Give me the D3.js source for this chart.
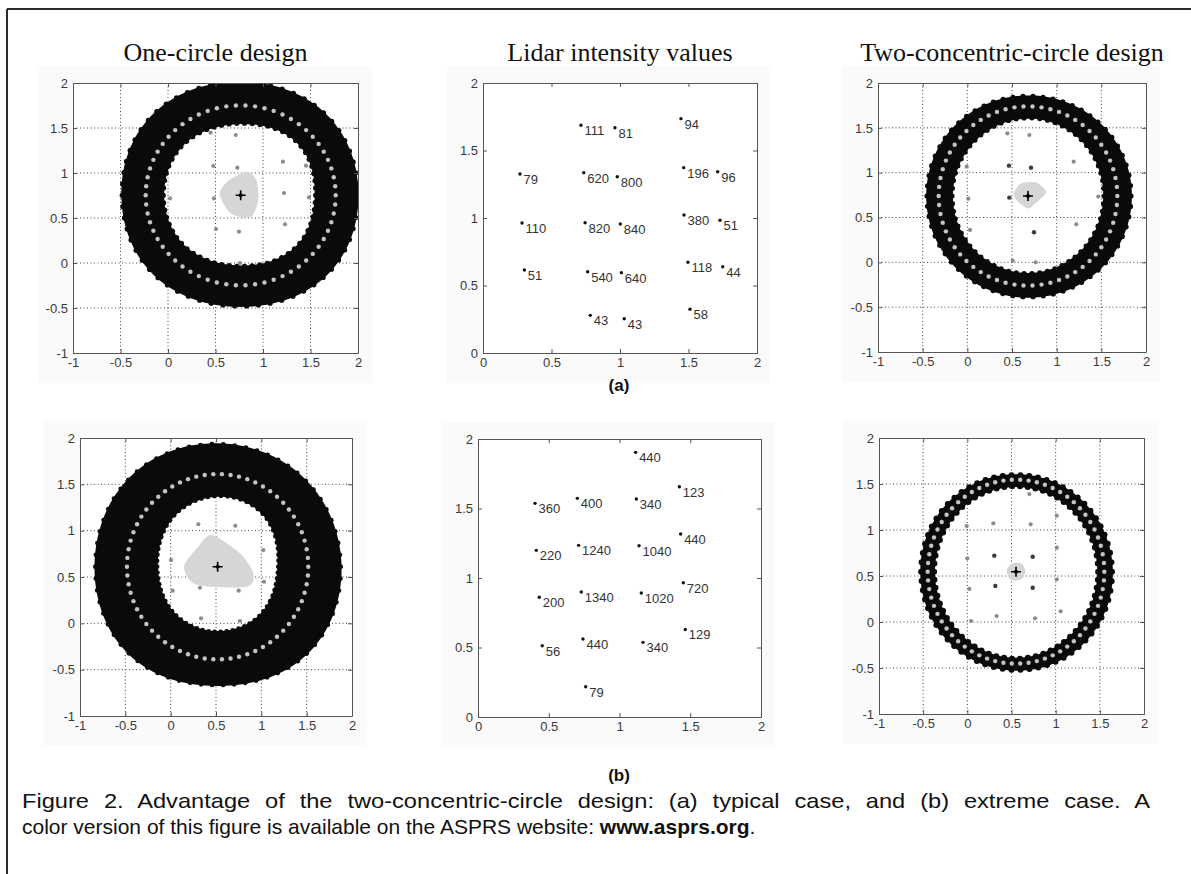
<!DOCTYPE html>
<html>
<head>
<meta charset="utf-8">
<script src="https://cdn.jsdelivr.net/npm/d3@7"></script>
<style>
  body { margin: 0; background: #fff; }
</style>
</head>
<body>
<svg id="fig" width="1191" height="874" font-family="'Liberation Sans', Arial, sans-serif"></svg>
<script>
// ---------- text
const titles = ["One-circle design", "Lidar intensity values", "Two-concentric-circle design"];
const caseLabels = ["(a)", "(b)"];
const captionLine1 = "Figure 2. Advantage of the two-concentric-circle design: (a) typical case, and (b) extreme case. A";
const captionLine2 = "color version of this figure is available on the ASPRS website: ";
const captionLink = "www.asprs.org";

// ---------- ticks
const circleTicks = [-1, -0.5, 0, 0.5, 1, 1.5, 2];
const lidarTicks = [0, 0.5, 1, 1.5, 2];

// ---------- lidar intensity values [x, y, intensity]
const lidarA = [
  [0.715, 1.687, 111], [0.963, 1.669, 81], [1.445, 1.736, 94],
  [0.270, 1.326, 79], [0.735, 1.336, 620], [0.980, 1.306, 800], [1.465, 1.373, 196], [1.713, 1.343, 96],
  [0.285, 0.963, 110], [0.745, 0.965, 820], [1.002, 0.956, 840], [1.467, 1.022, 380], [1.730, 0.983, 51],
  [0.302, 0.615, 51], [0.764, 0.602, 540], [1.010, 0.595, 640], [1.496, 0.672, 118], [1.750, 0.639, 44],
  [0.783, 0.279, 43], [1.031, 0.254, 43], [1.511, 0.324, 58]
];
const lidarB = [
  [1.114, 1.904, 440], [1.423, 1.657, 123],
  [0.403, 1.537, 360], [0.702, 1.573, 400], [1.119, 1.568, 340], [1.432, 1.317, 440],
  [0.412, 1.199, 220], [0.711, 1.235, 1240], [1.138, 1.232, 1040], [1.451, 0.966, 720],
  [0.433, 0.861, 200], [0.730, 0.899, 1340], [1.154, 0.892, 1020], [1.465, 0.630, 129],
  [0.454, 0.513, 56], [0.742, 0.561, 440], [1.166, 0.537, 340], [0.761, 0.218, 79]
];

// ---------- circle designs
// band radii at 0,45,...,315 degrees (data units, from the centre)
const bandAngles = [0, 45, 90, 135, 180, 225, 270, 315];

// (a) one circle
const a1Center = [0.765, 0.752];
const a1RingCount = 62;
const a1Outer = [1.21, 1.30, 1.24, 1.32, 1.23, 1.30, 1.21, 1.30];
const a1Inner = [0.74, 0.87, 0.76, 0.84, 0.79, 0.83, 0.75, 0.845];
const a1Dots = [[0.713, 1.422], [0.477, 1.078], [0.730, 1.059], [1.210, 1.126], [0.021, 0.719], [0.484, 0.719],
  [1.221, 0.778], [1.484, 0.730], [0.505, 0.378], [0.747, 0.348], [1.232, 0.430], [0.758, 0.000],
  [0.449, 1.448], [1.453, 1.081]];
const a1DarkDots = [];
const a1Region = [[0.828, 1.015], [0.93, 0.92], [0.95, 0.70], [0.87, 0.51], [0.66, 0.55], [0.545, 0.76], [0.63, 0.91]];

// (a) two concentric circles
const a2Center = [0.679, 0.740];
const a2RingCount = 62;
const a2Outer = [1.17, 1.15, 1.11, 1.14, 1.14, 1.14, 1.13, 1.15];
const a2Inner = [0.835, 0.86, 0.866, 0.85, 0.836, 0.85, 0.862, 0.85];
const a2Dots = [[0.448, 1.439], [0.694, 1.420], [1.190, 1.123], [-0.007, 1.067], [0.011, 0.710], [1.466, 0.733],
  [0.030, 0.361], [1.220, 0.424], [0.508, 0.018], [0.765, 0.000]];
const a2DarkDots = [[0.466, 1.078], [0.713, 1.056], [0.470, 0.722], [0.746, 0.335]];
const a2Region = [[0.52, 0.77], [0.60, 0.88], [0.77, 0.89], [0.88, 0.78], [0.74, 0.64], [0.68, 0.60], [0.56, 0.68]];

// (b) one circle
const b1Center = [0.518, 0.611];
const b1RingCount = 66;
const b1Outer = [1.36, 1.36, 1.31, 1.39, 1.34, 1.40, 1.23, 1.40];
const b1Inner = [0.62, 0.77, 0.757, 0.73, 0.63, 0.70, 0.69, 0.71];
const b1Dots = [[0.305, 1.069], [0.713, 1.053], [1.022, 0.791], [0.004, 0.683], [1.030, 0.449], [0.022, 0.352],
  [0.323, 0.384], [0.750, 0.352], [0.335, 0.054], [0.765, 0.025]];
const b1DarkDots = [];
const b1Region = [[0.452, 0.953], [0.764, 0.756], [0.911, 0.54], [0.838, 0.396], [0.287, 0.417], [0.147, 0.611], [0.305, 0.827]];

// (b) two concentric circles
const b2Center = [0.551, 0.547];
const b2RingCount = 66;
const b2Outer = [1.10, 1.08, 1.05, 1.08, 1.086, 1.08, 1.07, 1.10];
const b2Inner = [0.92, 0.92, 0.92, 0.92, 0.916, 0.92, 0.945, 0.92];
const b2Dots = [[0.702, 1.391], [1.012, 1.156], [0.294, 1.073], [0.717, 1.062], [-0.007, 1.043], [1.012, 0.808],
  [0.000, 0.692], [1.012, 0.464], [0.022, 0.359], [1.057, 0.116], [0.332, 0.065], [0.042, 0.011], [0.766, 0.040]];
const b2DarkDots = [[0.305, 0.721], [0.740, 0.710], [0.317, 0.391], [0.740, 0.373]];
const b2Region = [[0.66, 0.55], [0.62, 0.63], [0.55, 0.645], [0.48, 0.62], [0.446, 0.55], [0.48, 0.47], [0.55, 0.45], [0.62, 0.47]];

// ---------- layout
const svg = d3.select("#fig");

// page frame (top + left rule)
svg.append("line").attr("x1", 7).attr("y1", 9).attr("x2", 1191).attr("y2", 9)
  .attr("stroke", "#2a2a2a").attr("stroke-width", 2);
svg.append("line").attr("x1", 7).attr("y1", 9).attr("x2", 7).attr("y2", 874)
  .attr("stroke", "#2a2a2a").attr("stroke-width", 2);

let clipId = 0;

function makeAxes(box, dom, ticks, grid) {
  const x = d3.scaleLinear().domain(dom).range([box.x, box.x + box.w]);
  const y = d3.scaleLinear().domain(dom).range([box.y + box.h, box.y]);

  // faint figure background
  svg.append("rect")
    .attr("x", box.x - 36).attr("y", box.y - 17)
    .attr("width", box.w + 50).attr("height", box.h + 47)
    .attr("fill", "#fafafa");
  svg.append("rect")
    .attr("x", box.x).attr("y", box.y).attr("width", box.w).attr("height", box.h)
    .attr("fill", "#fff");

  const id = "clip" + (clipId++);
  svg.append("clipPath").attr("id", id)
    .append("rect").attr("x", box.x).attr("y", box.y).attr("width", box.w).attr("height", box.h);

  const plot = svg.append("g").attr("clip-path", `url(#${id})`);

  if (grid) {
    const inner = ticks.slice(1, -1);
    plot.selectAll(".gx").data(inner).enter().append("line")
      .attr("x1", d => x(d)).attr("x2", d => x(d))
      .attr("y1", box.y).attr("y2", box.y + box.h)
      .attr("stroke", "#444").attr("stroke-width", 1).attr("stroke-dasharray", "1,2.5");
    plot.selectAll(".gy").data(inner).enter().append("line")
      .attr("y1", d => y(d)).attr("y2", d => y(d))
      .attr("x1", box.x).attr("x2", box.x + box.w)
      .attr("stroke", "#444").attr("stroke-width", 1).attr("stroke-dasharray", "1,2.5");
  }

  const fmt = d => String(d);
  const axes = {
    bottom: d3.axisBottom(x).tickValues(ticks).tickFormat(fmt).tickSizeInner(-4).tickSizeOuter(0).tickPadding(5),
    left: d3.axisLeft(y).tickValues(ticks).tickFormat(fmt).tickSizeInner(-4).tickSizeOuter(0).tickPadding(5),
    top: d3.axisTop(x).tickValues(ticks).tickFormat("").tickSizeInner(-4).tickSizeOuter(0),
    right: d3.axisRight(y).tickValues(ticks).tickFormat("").tickSizeInner(-4).tickSizeOuter(0)
  };
  const drawAxis = (axis, tx, ty) => {
    const g = svg.append("g").attr("transform", `translate(${tx},${ty})`).call(axis);
    g.select(".domain").attr("stroke", "#555");
    g.selectAll(".tick line").attr("stroke", "#555");
    g.selectAll("text").attr("fill", "#3a3a3a").attr("font-size", 13)
      .attr("font-family", "'Liberation Sans', Arial, sans-serif");
    return g;
  };
  drawAxis(axes.bottom, 0, box.y + box.h);
  drawAxis(axes.left, box.x, 0);
  drawAxis(axes.top, 0, box.y);
  drawAxis(axes.right, box.x + box.w, 0);

  return { x, y, plot };
}

function circlePanel(box, c) {
  const { x, y, plot } = makeAxes(box, [-1, 2], circleTicks, true);
  const [cx, cy] = c.center;
  const fo = d3.interpolateBasisClosed(c.outer);
  const fi = d3.interpolateBasisClosed(c.inner);
  const pt = (r, a) => {
    const t = a * Math.PI / 180;
    return [x(cx + r * Math.cos(t)), y(cy + r * Math.sin(t))];
  };
  const angs = d3.range(0, 360, 2);
  const closed = d3.line().curve(d3.curveLinearClosed);

  // black band
  plot.append("path")
    .attr("d", closed(angs.map(a => pt(fo(a / 360), a))) + closed(angs.map(a => pt(fi(a / 360), a))))
    .attr("fill", "#0a0a0a").attr("fill-rule", "evenodd");

  const ringAngs = d3.range(c.ringCount).map(k => 360 * k / c.ringCount);
  // scalloped edges from the markers
  const bumps = [];
  ringAngs.forEach(a => {
    bumps.push(pt(fo(a / 360) - 0.01, a));
    bumps.push(pt(fi(a / 360) + 0.01, a));
  });
  plot.selectAll(".bump").data(bumps).enter().append("circle")
    .attr("cx", d => d[0]).attr("cy", d => d[1]).attr("r", c.bump)
    .attr("fill", "#0a0a0a");

  // design circle points
  plot.selectAll(".ring").data(ringAngs).enter().append("circle")
    .attr("cx", a => pt(1, a)[0]).attr("cy", a => pt(1, a)[1])
    .attr("r", 2.2).attr("fill", "#c4c4c4");

  // candidate-centre region
  plot.append("path")
    .attr("d", d3.line().x(d => x(d[0])).y(d => y(d[1])).curve(d3.curveCardinalClosed.tension(0.2))(c.region))
    .attr("fill", "#d6d6d6");

  plot.selectAll(".pt").data(c.dots).enter().append("circle")
    .attr("cx", d => x(d[0])).attr("cy", d => y(d[1])).attr("r", 2.1).attr("fill", "#8c8c8c");
  plot.selectAll(".dk").data(c.dark).enter().append("circle")
    .attr("cx", d => x(d[0])).attr("cy", d => y(d[1])).attr("r", 2.2).attr("fill", "#3a3a3a");

  // estimated centre
  const X = x(cx), Y = y(cy);
  plot.append("path").attr("d", `M${X - 5},${Y}H${X + 5}M${X},${Y - 5}V${Y + 5}`)
    .attr("stroke", "#000").attr("stroke-width", 1.6);
  plot.append("circle").attr("cx", X).attr("cy", Y).attr("r", 2).attr("fill", "#000");
}

function lidarPanel(box, pts) {
  const { x, y, plot } = makeAxes(box, [0, 2], lidarTicks, false);
  const g = svg.append("g");
  g.selectAll("circle").data(pts).enter().append("circle")
    .attr("cx", d => x(d[0])).attr("cy", d => y(d[1])).attr("r", 1.7).attr("fill", "#111");
  g.selectAll("text").data(pts).enter().append("text")
    .attr("x", d => x(d[0]) + 3.5).attr("y", d => y(d[1]) + 10)
    .attr("font-size", 13).attr("fill", "#333")
    .text(d => d[2]);
}

function title(box, t) {
  svg.append("text")
    .attr("x", box.x + box.w / 2).attr("y", 61)
    .attr("text-anchor", "middle")
    .attr("font-family", "'Liberation Serif', 'Times New Roman', serif")
    .attr("font-size", 26).attr("fill", "#111")
    .text(t);
}

const boxA1 = { x: 73, y: 83, w: 285, h: 270 };
const boxA2 = { x: 483, y: 83, w: 274, h: 270 };
const boxA3 = { x: 878, y: 83, w: 268, h: 269 };
const boxB1 = { x: 80, y: 438, w: 272, h: 278 };
const boxB2 = { x: 478, y: 439, w: 283, h: 278 };
const boxB3 = { x: 879, y: 438, w: 265, h: 276 };

circlePanel(boxA1, { center: a1Center, ringCount: a1RingCount, outer: a1Outer, inner: a1Inner,
  dots: a1Dots, dark: a1DarkDots, region: a1Region, bump: 2.6 });
lidarPanel(boxA2, lidarA);
circlePanel(boxA3, { center: a2Center, ringCount: a2RingCount, outer: a2Outer, inner: a2Inner,
  dots: a2Dots, dark: a2DarkDots, region: a2Region, bump: 2.6 });
circlePanel(boxB1, { center: b1Center, ringCount: b1RingCount, outer: b1Outer, inner: b1Inner,
  dots: b1Dots, dark: b1DarkDots, region: b1Region, bump: 2.4 });
lidarPanel(boxB2, lidarB);
circlePanel(boxB3, { center: b2Center, ringCount: b2RingCount, outer: b2Outer, inner: b2Inner,
  dots: b2Dots, dark: b2DarkDots, region: b2Region, bump: 3 });

[boxA1, boxA2, boxA3].forEach((b, i) => title(b, titles[i]));

svg.selectAll(".case").data(caseLabels).enter().append("text")
  .attr("x", 619).attr("y", (d, i) => i === 0 ? 391 : 781)
  .attr("text-anchor", "middle").attr("font-weight", "bold").attr("font-size", 17).attr("fill", "#111")
  .text(d => d);

// caption: first line is justified to the full column width
const cap = svg.append("g")
  .attr("font-family", "'Liberation Sans', Arial, sans-serif")
  .attr("font-size", 21).attr("fill", "#111");
const line1 = cap.append("text").attr("x", 22).attr("y", 808).text(captionLine1);
const natural = line1.node().getComputedTextLength();
const gaps = captionLine1.split(" ").length - 1;
line1.attr("word-spacing", Math.max(0, (1128 - natural) / gaps * 0.45))
  .attr("textLength", 1128).attr("lengthAdjust", "spacingAndGlyphs");
const line2 = cap.append("text").attr("x", 22).attr("y", 834);
line2.append("tspan").text(captionLine2);
line2.append("tspan").attr("font-weight", "bold").text(captionLink);
line2.append("tspan").text(".");
</script>
</body>
</html>
